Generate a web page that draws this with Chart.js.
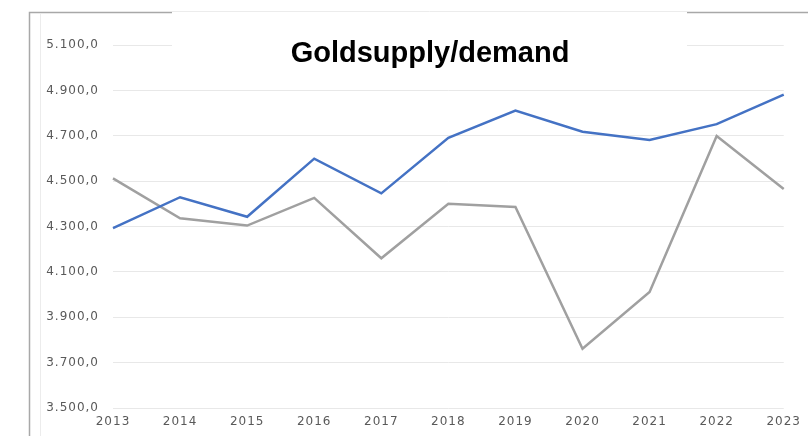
<!DOCTYPE html>
<html>
<head>
<meta charset="utf-8">
<script src="https://cdn.jsdelivr.net/npm/chart.js@4/dist/chart.umd.min.js"></script>
<style>
  html, body { margin: 0; padding: 0; background: #fff; }
  canvas { display: block; }
</style>
</head>
<body>
<canvas id="chart" width="808" height="436"></canvas>
<script>
const years = ["2013", "2014", "2015", "2016", "2017", "2018", "2019", "2020", "2021", "2022", "2023"];
const supply = [4293, 4429, 4343, 4599, 4446, 4691, 4811, 4718, 4681, 4751, 4881];
const demand = [4512, 4336, 4304, 4426, 4160, 4400, 4386, 3761, 4011, 4699, 4465];
const titleText = "Goldsupply/demand";

// 5100 -> "5.100,0"
function fmt(v) {
  const s = String(Math.round(v));
  return s.replace(/\B(?=(\d{3})+(?!\d))/g, ".") + ",0";
}

// outer frame and the white title box drawn on top
const framePlugin = {
  id: "frame",
  beforeUpdate(chart) { chart.ctx.letterSpacing = "1px"; },
  beforeDraw(chart) {
    const ctx = chart.ctx;
    ctx.letterSpacing = "1px";
    ctx.save();
    ctx.fillStyle = "#fff";
    ctx.fillRect(0, 0, chart.width, chart.height);
    ctx.strokeStyle = "#a8a8a8";
    ctx.lineWidth = 1.5;
    ctx.beginPath();
    ctx.moveTo(29.5, 436); ctx.lineTo(29.5, 12.5); ctx.lineTo(172, 12.5);
    ctx.moveTo(687, 12.5); ctx.lineTo(808, 12.5);
    ctx.stroke();
    ctx.strokeStyle = "#ececec";
    ctx.lineWidth = 1;
    ctx.beginPath();
    ctx.moveTo(40.5, 436); ctx.lineTo(40.5, 14);
    ctx.stroke();
    ctx.restore();
  },
  afterDraw(chart) {
    const ctx = chart.ctx;
    ctx.save();
    ctx.letterSpacing = "0px";
    ctx.fillStyle = "#fff";
    ctx.fillRect(172, 11, 515, 58);
    ctx.strokeStyle = "#ececec";
    ctx.lineWidth = 1;
    ctx.beginPath();
    ctx.moveTo(172, 11.5); ctx.lineTo(687, 11.5);
    ctx.stroke();
    ctx.fillStyle = "#000";
    ctx.font = "bold 29px 'Liberation Sans', Arial, sans-serif";
    ctx.textAlign = "center";
    ctx.textBaseline = "alphabetic";
    ctx.fillText(titleText, 430, 62);
    ctx.restore();
  }
};

new Chart(document.getElementById("chart").getContext("2d"), {
  type: "line",
  data: {
    labels: years,
    datasets: [
      { label: "Supply", data: supply, borderColor: "#4472c4", borderWidth: 2.5, pointRadius: 0, tension: 0, fill: false },
      { label: "Demand", data: demand, borderColor: "#a0a0a0", borderWidth: 2.5, pointRadius: 0, tension: 0, fill: false }
    ]
  },
  options: {
    responsive: false,
    animation: false,
    layout: { padding: { top: 45, right: 21, bottom: 0, left: 0 } },
    plugins: { legend: { display: false }, tooltip: { enabled: false } },
    scales: {
      x: {
        offset: false,
        grid: { display: false, drawTicks: false },
        border: { display: false },
        ticks: { color: "#595959", font: { family: "'DejaVu Sans', Verdana, sans-serif", size: 12 }, padding: 7, maxRotation: 0, autoSkip: false },
        afterFit(scale) { scale.height = 28; }
      },
      y: {
        min: 3500,
        max: 5100,
        grid: { color: "#e8e8e8", lineWidth: 1, drawTicks: false },
        border: { display: false },
        ticks: { stepSize: 200, color: "#595959", font: { family: "'DejaVu Sans', Verdana, sans-serif", size: 12 }, padding: 14, callback: v => fmt(v) },
        afterFit(scale) { scale.width = 113; }
      }
    }
  },
  plugins: [framePlugin]
});
</script>
</body>
</html>
